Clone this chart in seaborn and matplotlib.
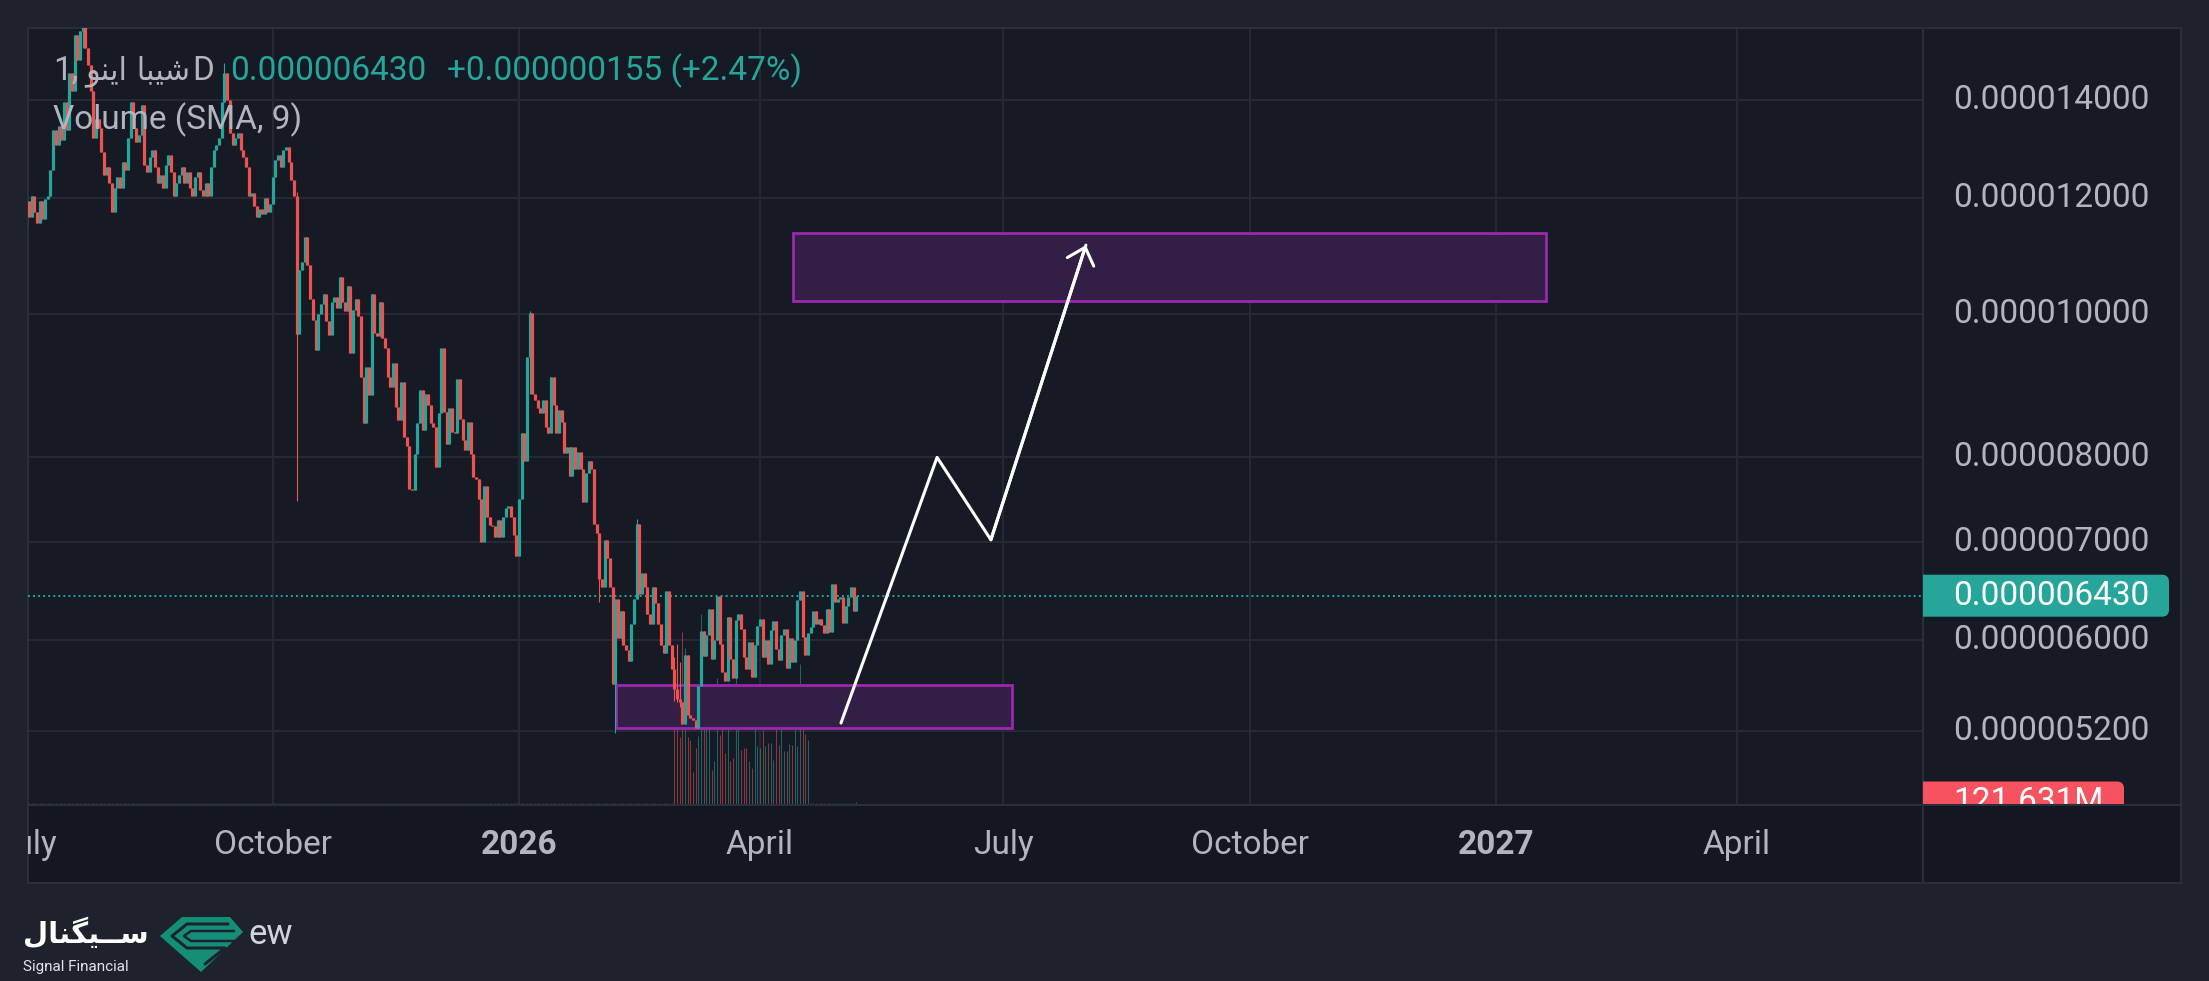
import numpy as np
import pandas as pd
import matplotlib
matplotlib.use("Agg")
import matplotlib.pyplot as plt
import matplotlib.dates as mdates
from matplotlib.patches import Rectangle, FancyBboxPatch, Polygon
from matplotlib.transforms import IdentityTransform
from matplotlib.ticker import NullLocator, FixedLocator
import seaborn as sns

# ---- data (prices in units of 1e-6) ----
start_date = "2025-07-01"
first_open = 11.45
closes = [
    11.95, 11.65, 12.05, 11.75, 11.55, 11.95, 11.62, 11.98, 12.05, 12.55,
    13.35, 13.05, 13.45, 13.15, 13.95, 13.35, 14.6, 14.2, 15.5, 14.9,
    15.6, 15.8, 15.2, 14.8, 14.2, 13.2, 13.6, 13.4, 12.9, 12.45,
    12.6, 12.3, 11.75, 12.2, 12.4, 12.2, 12.7, 12.55, 13.2, 13.95,
    13.4, 13.1, 13.25, 13.9, 12.65, 12.5, 12.8, 12.95, 12.6, 12.3,
    12.45, 12.2, 12.65, 12.85, 12.5, 12.05, 12.3, 12.45, 12.6, 12.3,
    12.5, 12.2, 12.05, 12.4, 12.5, 12.15, 12.05, 12.3, 12.05, 12.6,
    12.95, 13.05, 13.2, 13.95, 14.6, 14.0, 13.3, 13.05, 13.2, 13.3,
    12.95, 12.8, 12.6, 12.05, 12.1, 11.85, 11.65, 11.8, 11.7, 12.0,
    11.75, 11.9, 12.4, 12.75, 12.85, 12.6, 12.95, 13.0, 12.7, 12.35,
    12.05, 9.7, 10.72, 10.86, 11.29, 10.8, 10.25, 9.92, 9.45, 10.0,
    10.17, 10.33, 9.9, 9.69, 10.2, 10.28, 10.1, 10.6, 10.2, 10.05,
    10.45, 9.42, 10.07, 10.25, 9.97, 9.07, 8.43, 9.21, 8.81, 10.33,
    9.71, 9.66, 10.2, 9.64, 9.49, 9.06, 8.92, 9.26, 8.65, 8.47,
    9.0, 8.25, 8.14, 7.6, 7.59, 8.03, 8.43, 8.88, 8.34, 8.83,
    8.67, 8.43, 8.38, 7.87, 8.56, 9.48, 8.58, 8.16, 8.63, 8.32,
    8.3, 9.04, 8.49, 8.21, 8.08, 8.45, 8.03, 7.75, 7.72, 7.49,
    7.0, 7.64, 7.28, 7.19, 7.17, 7.05, 7.24, 7.05, 7.28, 7.38,
    7.4, 7.28, 7.07, 6.84, 7.49, 8.3, 7.95, 9.36, 10.02, 8.83,
    8.74, 8.63, 8.56, 8.74, 8.38, 8.3, 9.06, 8.67, 8.3, 8.61,
    8.45, 8.05, 8.12, 7.76, 8.12, 7.85, 8.06, 7.85, 7.45, 7.8,
    7.95, 7.85, 7.2, 7.1, 6.6, 6.52, 7.02, 6.82, 6.52, 5.6,
    6.4, 6.02, 6.28, 5.95, 5.9, 5.8, 6.15, 6.4, 7.2, 6.45,
    6.66, 6.52, 6.25, 6.15, 6.52, 6.36, 6.15, 5.95, 5.88, 6.48,
    5.95, 5.73, 5.55, 5.47, 5.44, 5.26, 5.86, 5.33, 5.31, 5.29,
    5.22, 5.58, 6.08, 5.85, 6.05, 6.3, 5.82, 6.0, 6.43, 5.96,
    5.7, 5.62, 6.22, 5.82, 5.65, 6.19, 6.25, 6.1, 5.84, 5.73,
    5.98, 5.66, 5.95, 6.13, 6.2, 5.84, 6.0, 5.78, 6.09, 6.18,
    5.91, 5.81, 6.05, 6.1, 5.74, 6.02, 5.79, 6.0, 6.39, 6.48,
    6.03, 5.86, 6.06, 6.12, 6.28, 6.15, 6.2, 6.14, 6.06, 6.3,
    6.07, 6.55, 6.37, 6.4, 6.42, 6.16, 6.33, 6.42, 6.52, 6.275, 6.43,
]
# only the wicks that stick out visibly
wick_days = [21, 74, 101, 188, 214, 220, 228, 242, 243, 244]
wick_highs = [15.9, 14.85, 12.12, 10.05, 7.05, 6.4, 7.25, 5.84, 5.96, 5.79]
wick_lows = [15.2, 14.0, 7.46, 8.83, 6.37, 5.18, 6.45, 5.45, 5.44, 5.40]

# volume in millions
quiet_volume_m = 120.0
busy_start_day = 242
busy_volume_m = [
    4230, 7660, 3290, 8440, 7630, 3290, 3170, 1600, 2770, 3340,
    9280, 5100, 5490, 5540, 1720, 2120, 6170, 3420, 4390, 2530,
    5930, 2120, 2280, 6250, 4260, 2690, 2770, 2770, 2120, 1800,
    3900, 2850, 2770, 3660, 2880, 3010, 3010, 2200, 4420, 2930,
    4390, 2610, 2640, 2960, 2900, 3990, 2850, 6850, 5040, 3450, 3170,
]
last_volume_m = 121.631

price_ticks = [5.2, 6.0, 7.0, 8.0, 10.0, 12.0, 14.0]
last_price = 6.43
last_change = 0.155
last_change_pct = 2.47

tick_dates = ["2025-07-01", "2025-10-01", "2026-01-01", "2026-04-01",
              "2026-07-01", "2026-10-01", "2027-01-01", "2027-04-01"]
tick_labels = ["July", "October", "2026", "April", "July", "October", "2027", "April"]

# drawings: day offsets from start_date and prices
zone_low_days = [220.2, 368.2]
zone_low_prices = [5.226, 5.589]
zone_high_days = [286.4, 567.6]
zone_high_prices = [10.22, 11.37]
path_days = [304.3, 340.2, 360.3, 395.8]
path_prices = [5.265, 7.99, 7.02, 11.15]

# ---- style ----
OUTER = "#1e222d"
PANE = "#161a25"
PANE2 = "#131722"
BORDER = "#2a2e39"
GRID = "#262a35"
TEAL = "#26a69a"
RED = "#ef5350"
TXT = "#b2b5be"

sns.set_theme(style="dark")
plt.rcParams["font.family"] = ["Roboto", "DejaVu Sans"]

W, H = 2209, 981
fig = plt.figure(figsize=(W / 100, H / 100), dpi=100)
fig.patch.set_facecolor(OUTER)


def px_axes(x0, y0, x1, y1, **kw):
    return fig.add_axes([x0 / W, 1 - y1 / H, (x1 - x0) / W, (y1 - y0) / H], **kw)


def frame(a, fc):
    a.set_facecolor(fc)
    for s in a.spines.values():
        s.set_color(BORDER)
        s.set_linewidth(1.5)


t0 = mdates.date2num(pd.Timestamp(start_date))
dates = pd.date_range(start_date, periods=len(closes), freq="D")
x = mdates.date2num(dates)
c = np.array(closes)
o = np.r_[first_open, c[:-1]]
hi = np.maximum(o, c)
lo = np.minimum(o, c)
for d, wh, wl in zip(wick_days, wick_highs, wick_lows):
    hi[d] = max(hi[d], wh)
    lo[d] = min(lo[d], wl)
up = c >= o
cols = np.where(up, TEAL, RED)

vol = np.full(len(closes), quiet_volume_m)
vol[busy_start_day:busy_start_day + len(busy_volume_m)] = busy_volume_m
vol[-1] = last_volume_m
vol_top = 37800.0

# ---- panes ----
ax = px_axes(28, 28, 1923, 805)
ax.set_yscale("log")
ax_time = px_axes(28, 805, 1923, 883, sharex=ax)
ax_p = px_axes(1923, 28, 2181, 805, sharey=ax)
ax_c = px_axes(1923, 805, 2181, 883)
frame(ax, PANE)
frame(ax_time, PANE2)
frame(ax_p, PANE)
frame(ax_c, PANE2)

ax.set_xlim(t0 + 0.6, t0 + 708.5)
ax.set_ylim(4.629, 15.68)
ax.yaxis.set_major_locator(FixedLocator(price_ticks))
ax.yaxis.set_minor_locator(NullLocator())
ax.xaxis.set_major_locator(FixedLocator(mdates.date2num(pd.to_datetime(tick_dates))))
ax.xaxis.set_minor_locator(NullLocator())
for a in (ax, ax_time, ax_p, ax_c):
    a.tick_params(which="both", length=0, labelleft=False, labelbottom=False,
                  labelright=False, labeltop=False)
    a.grid(False)
ax.grid(True, which="major", color=GRID, lw=1.4)
ax_p.set_xlim(0, 258)
ax_c.set_xticks([])
ax_c.set_yticks([])

# volume overlay at the bottom of the pane
vcols = np.where(up, "#26a69a88", "#ef535088")
ax.vlines(x, 0, vol / vol_top, transform=ax.get_xaxis_transform(),
          colors=vcols, lw=0.75, zorder=2)

# zones
for zd, zp in [(zone_low_days, zone_low_prices), (zone_high_days, zone_high_prices)]:
    ax.add_patch(Rectangle((t0 + zd[0], zp[0]), zd[1] - zd[0], zp[1] - zp[0],
                           facecolor="#331e46", edgecolor="#9c27b0", lw=2.0, zorder=3))

# candles
ax.vlines(x, lo, hi, colors=cols, lw=0.8, zorder=4)
body = ax.vlines(x, np.minimum(o, c), np.maximum(o, c), colors=cols, lw=2.3, zorder=4)
body.set_capstyle("butt")

# last price dotted line
ax.axhline(last_price, color=TEAL, lw=1.4, ls=(0, (1, 1.6)), zorder=3)

# projected path
path_x = t0 + np.array(path_days)
sns.lineplot(x=path_x, y=path_prices, sort=False, estimator=None, color="white",
             linewidth=2.2, ax=ax, zorder=6)
ax.annotate("", xy=(path_x[-1], path_prices[-1]), xytext=(path_x[-2], path_prices[-2]),
            arrowprops=dict(arrowstyle="->,head_length=1.1,head_width=1.0", color="white",
                            lw=2.2, shrinkA=0, shrinkB=0, mutation_scale=10), zorder=6)
ax.set_xlabel("")
ax.set_ylabel("")

# ---- time axis labels ----
for td, tl in zip(tick_dates, tick_labels):
    ax_time.text(mdates.date2num(pd.Timestamp(td)), 0.49, tl, transform=ax_time.get_xaxis_transform(),
                 ha="center", va="center", fontsize=24, color=TXT,
                 fontweight="bold" if tl.isdigit() else "normal", clip_on=True)

# ---- price axis labels ----
for p in price_ticks:
    ax_p.text(30, p, f"{p * 1e-6:.9f}", ha="left", va="center", fontsize=24, color=TXT)

fig.canvas.draw()
x_left = ax_p.bbox.x0
y_last = ax_p.transData.transform((0, last_price))[1]
ax_p.add_patch(FancyBboxPatch((x_left - 10, y_last - 21), 256, 42,
                              boxstyle="round,pad=0,rounding_size=7",
                              transform=IdentityTransform(), fc=TEAL, ec="none", zorder=5))
ax_p.text(30, last_price, f"{last_price * 1e-6:.9f}", ha="left", va="center",
          fontsize=24, color="white", zorder=6)

y_vol = ax.bbox.y0 + last_volume_m / vol_top * ax.bbox.height
ax_p.add_patch(FancyBboxPatch((x_left - 10, y_vol - 21), 211, 42,
                              boxstyle="round,pad=0,rounding_size=7",
                              transform=IdentityTransform(), fc="#f7525f", ec="none", zorder=5))
ax_p.text(x_left + 30, y_vol, f"{last_volume_m:.3f}M", transform=IdentityTransform(),
          ha="left", va="center", fontsize=24, color="white", zorder=6, clip_on=True)

# ---- overlay: legend texts and logo (pixel coordinates) ----
ov = fig.add_axes([0, 0, 1, 1], facecolor="none")
ov.set_xlim(0, W)
ov.set_ylim(H, 0)
ov.axis("off")

renderer = fig.canvas.get_renderer()
inv = ov.transData.inverted()


def right_edge(t):
    bb = t.get_window_extent(renderer)
    return inv.transform((bb.x1, bb.y0))[0]


name_visual = "\uFEEE\uFEE8\uFBFE\uFE8D \uFE8E\uFE92\uFBFF\uFEB7"
t1 = ov.text(53, 71, "1,", ha="left", va="center", fontsize=24, color=TXT)
t2 = ov.text(right_edge(t1) + 7, 71, name_visual, ha="left", va="center", fontsize=22,
             color=TXT, family=["DejaVu Sans"])
ov.text(right_edge(t2) + 2, 71, "D", ha="left", va="center", fontsize=24, color=TXT)
ov.text(230, 71, f"{last_price * 1e-6:.9f}", ha="left", va="center", fontsize=24, color=TEAL)
ov.text(447, 71, f"+{last_change * 1e-6:.9f} (+{last_change_pct:.2f}%)", ha="left",
        va="center", fontsize=24, color=TEAL)
ov.text(53, 120, "Volume (SMA, 9)", ha="left", va="center", fontsize=24, color=TXT)

brand_visual = "\uFEDD\uFE8E\uFEE8\uFB95\uFBFF\u0640\u0640\uFEB3"
ov.text(23, 933, brand_visual, ha="left", va="center", fontsize=21, color="white",
        fontweight="bold", family=["DejaVu Sans"])
ov.text(23, 967, "Signal Financial", ha="left", va="center", fontsize=11, color="#e0e3eb")
ov.add_patch(Polygon([(182, 917), (230, 917), (243, 932), (201, 972), (160, 936)],
                     closed=True, fc="#138f78", ec="none"))
ov.plot([228, 187, 172, 187, 225, 205], [924, 924, 936, 948, 948, 964], color=OUTER, lw=2.2)
ov.plot([234, 191, 184, 191, 236], [931, 931, 936, 941, 941], color=OUTER, lw=1.8)
ov.text(248, 934, "ew", ha="left", va="center", fontsize=25, color="#d1d4dc")

fig.savefig("out.png", dpi=100, facecolor=fig.get_facecolor())
